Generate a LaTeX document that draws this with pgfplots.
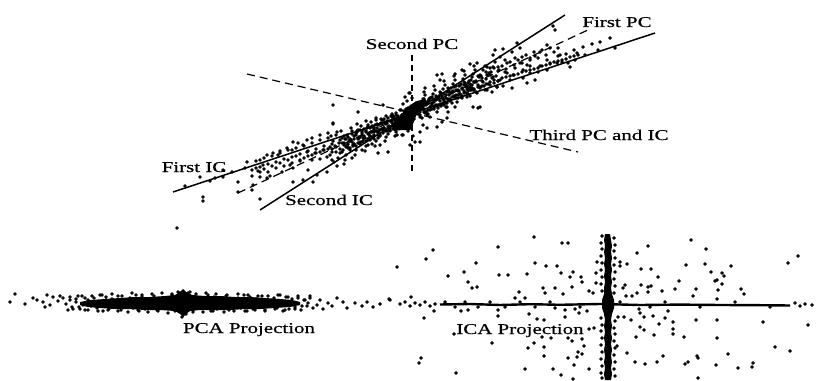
\documentclass[border=0pt]{standalone}
\usepackage{pgfplots}
\pgfplotsset{compat=1.18}
\usepackage{fontspec}
\setmainfont[FakeStretch=1.4, FakeBold=0.6]{Liberation Serif}
\begin{document}
\begin{tikzpicture}
\begin{axis}[scale only axis, width=816bp, height=380bp,
  xmin=0, xmax=816, ymin=0, ymax=380, y dir=reverse,
  hide axis, clip=true,
  every axis plot/.append style={black}]
\path (rel axis cs:0,0) rectangle (rel axis cs:1,1);
% ---------- top: central blob ----------
\addplot[fill=black, draw=none] coordinates {
(392,126) (398,119) (404,111) (410,105) (417,101) (425,99) (428,103) (422,109) (416,116) (413,124) (410,130) (402,130) (394,131)} -- cycle;
% ---------- top: scatter ----------
\addplot[only marks, mark=*, mark size=1.5] table {
x y
333 124
320 135
328 133
337 132
312 138
307 140
293 142
298 143
303 145
287 148
292 150
280 151
273 153
278 155
267 155
307 152
315 153
323 150
330 147
300 160
312 160
320 159
327 157
260 160
247 162
263 165
290 165
282 172
293 168
258 171
260 177
267 178
223 170
223 177
200 177
238 182
253 185
238 192
252 190
203 197
203 201
260 199
293 182
303 180
313 182
317 175
327 172
308 170
185 186
215 178
232 172
245 168
210 181
270 176
331 136
333 141
335 146
336 152
338 158
334 162
332 149
339 143
337 166
330 155
341 131
342 138
344 143
343 150
346 155
348 147
345 160
347 135
349 141
340 153
344 164
351 128
352 134
354 139
353 145
356 150
358 143
355 155
357 131
359 137
350 148
352 158
357 124
361 126
362 131
364 136
363 141
366 146
368 139
365 151
367 128
369 134
360 144
362 150
366 121
368 145
371 122
372 127
374 132
373 137
376 141
378 135
375 146
377 124
379 130
370 140
372 144
376 118
378 138
374 128
381 119
382 124
384 128
383 133
386 137
388 131
385 141
387 121
389 126
380 136
382 129
386 116
388 134
384 122
391 116
392 120
394 124
393 129
396 132
398 127
395 136
397 118
399 123
390 131
392 126
396 113
398 121
394 119
401 110
403 104
405 97
407 101
409 93
411 128
413 136
415 142
402 135
418 105
410 145
412 98
408 131
421 103
422 108
424 112
423 99
426 105
428 110
425 95
427 115
429 101
420 117
424 92
431 98
432 103
434 107
433 94
436 100
438 105
435 90
437 112
439 97
430 110
434 86
441 93
442 98
444 102
443 89
446 95
448 100
445 85
447 107
449 91
440 105
444 81
448 112
451 88
452 93
454 97
453 84
456 90
458 95
455 80
457 102
459 86
450 99
454 76
461 84
462 88
464 93
463 79
466 86
468 91
465 75
467 97
469 81
460 94
464 71
471 80
472 85
474 89
473 74
476 82
478 87
475 70
477 93
479 77
470 90
474 66
481 76
482 81
484 86
483 70
486 79
488 84
485 66
487 90
489 73
480 88
491 72
492 78
494 83
493 67
496 76
498 81
495 62
497 87
499 70
495 50
503 49
512 52
493 55
500 57
522 57
530 58
535 56
547 60
550 63
557 63
562 62
568 63
570 67
520 63
527 65
507 63
498 67
490 68
515 68
523 70
507 73
513 75
530 73
538 72
547 70
487 75
493 77
500 80
510 80
523 78
483 82
490 85
497 87
503 86
485 90
492 92
480 107
553 26
555 30
517 43
547 45
558 48
577 53
437 75
442 74
477 63
487 67
447 103
455 107
473 107
478 108
430 117
442 122
447 118
423 125
427 128
437 127
420 132
333 105
383 105
358 112
333 123
380 145
388 152
397 135
403 135
420 142
410 93
332 160
378 153
505 60
515 58
540 52
583 47
592 44
600 42
615 48
610 38
598 50
575 60
585 55
540 66
560 55
530 66
520 48
505 72
512 88
527 83
535 80
425 88
440 80
455 74
462 70
470 64
340 140
340 149
342 143
342 152
344 136
344 145
346 147
346 139
348 137
348 148
350 141
350 150
352 131
352 142
354 144
354 136
356 135
356 146
358 139
358 130
360 130
360 142
362 142
362 135
364 129
364 138
366 132
366 141
368 125
368 134
370 136
370 128
372 126
372 137
374 130
374 139
376 120
376 131
378 133
378 125
380 124
380 135
382 129
382 120
384 119
384 131
386 131
386 124
388 118
388 127
390 121
390 130
392 114
392 123
394 125
394 117
396 115
396 126
398 119
398 128
400 110
400 120
402 123
402 115
404 114
404 125
406 118
406 109
408 108
408 120
410 120
410 113
412 107
412 116
414 110
414 119
416 103
416 112
418 114
418 106
420 104
420 115
422 109
422 118
424 99
424 110
426 112
426 104
428 103
428 114
430 107
430 98
432 97
432 109
434 109
434 102
436 96
436 105
438 99
438 108
440 92
440 101
442 104
442 96
444 94
444 105
446 98
446 107
448 88
448 99
450 101
450 93
452 92
452 103
454 96
454 87
456 86
456 98
458 98
458 91
460 85
460 94
462 89
462 98
464 82
464 91
466 93
466 85
468 83
468 94
470 87
470 96
472 77
472 88
474 90
474 82
476 81
476 92
478 85
478 76
480 75
480 87
345 139
348 144
351 140
354 144
357 132
360 137
363 138
366 131
369 138
372 132
375 125
378 132
381 123
384 128
387 123
390 128
393 116
396 120
399 122
402 115
405 122
408 116
411 109
414 116
417 107
420 112
423 107
426 112
429 99
432 104
435 106
438 98
441 106
444 100
447 92
450 100
453 91
456 95
459 91
462 96
465 83
468 88
471 90
474 82
347 145
350 139
353 146
356 133
359 138
362 133
365 138
368 127
371 132
374 135
377 128
380 130
383 129
386 123
389 129
392 117
395 122
398 116
401 122
404 111
407 115
410 119
413 112
416 113
419 113
422 107
425 113
428 101
431 106
434 100
437 106
440 95
443 99
446 103
449 95
452 97
455 97
458 90
461 97
464 85
467 89
470 84
473 90
482 86
482 78
486 84
486 72
490 82
490 75
494 80
494 68
498 81
498 71
502 78
502 66
506 77
506 69
510 76
510 62
514 75
514 65
518 74
518 60
522 72
522 63
526 71
526 55
530 70
530 60
534 69
534 52
538 68
538 58
542 66
542 50
546 65
546 55
550 64
550 48
554 62
554 52
558 61
558 56
562 60
566 59
566 54
570 57
574 56
574 50
578 55
252 170
252 176
256 168
256 161
260 167
260 172
264 158
264 169
268 164
268 172
272 156
272 166
276 162
276 168
280 153
280 163
284 159
284 166
288 150
288 160
292 157
292 163
296 148
296 156
300 154
300 161
304 146
304 158
308 151
308 156
312 143
312 155
316 149
316 153
320 140
320 152
324 146
324 150
328 138
328 149
332 144
332 152
336 135
336 147
};
% ---------- top: component lines ----------
\addplot[line width=1.5bp] coordinates {(173,192) (655,33)};
\addplot[line width=1.5bp] coordinates {(260,210) (565,15)};
\addplot[line width=1.2bp, dash pattern=on 8bp off 5bp] coordinates {(238,193) (590,29)};
\addplot[line width=1.2bp, dash pattern=on 6bp off 4bp] coordinates {(412,55) (412,172)};
\addplot[line width=1.2bp, dash pattern=on 8bp off 5bp] coordinates {(247,74) (578,152)};
% ---------- PCA projection ----------
\addplot[fill=black, draw=none] coordinates {
(80,302) (90,300) (105,299) (120,298) (135,297) (150,297) (165,296) (175,295) (180,292) (183,289) (186,292) (192,295) (205,296) (220,296) (235,297) (250,297) (265,298) (280,299) (292,300) (300,302)
(300,305) (290,307) (275,308) (260,309) (245,309) (230,310) (215,310) (200,310) (190,311) (186,314) (183,317) (180,314) (175,311) (160,310) (145,310) (130,309) (115,309) (100,308) (88,307) (80,305)} -- cycle;
\addplot[only marks, mark=*, mark size=1.5] table {
x y
15 294
10 302
33 298
43 302
47 295
53 297
50 305
45 307
63 298
337 298
343 302
347 308
367 302
373 307
390 300
328 303
317 305
313 308
305 300
58 301
66 304
70 300
72 307
78 296
80 309
85 298
88 310
92 296
95 303
98 311
102 295
106 300
108 310
112 294
115 304
118 311
122 296
125 301
128 312
132 293
135 306
138 310
142 295
146 302
148 312
152 294
155 307
158 311
162 293
165 300
168 313
172 294
175 306
180 293
186 314
190 292
193 312
196 294
199 306
203 312
206 293
210 300
213 311
216 294
220 305
224 312
227 295
230 301
234 311
238 294
241 305
245 311
248 295
252 302
255 310
258 296
262 304
265 311
268 296
272 301
275 309
278 295
282 305
285 310
288 297
292 303
295 309
298 298
302 306
308 303
310 296
320 300
323 309
332 306
355 303
362 306
380 304
25 304
37 300
60 296
68 310
76 302
83 305
100 305
140 300
160 304
178 292
188 293
182 317
177 228
70 297
73 309
76 299
79 307
82 296
85 310
88 300
91 306
94 298
97 308
100 295
103 311
106 297
109 309
112 299
115 307
118 296
121 310
124 300
127 306
130 298
133 308
136 295
139 311
142 297
145 309
148 299
151 307
154 296
157 310
160 300
163 306
166 298
169 308
172 295
175 311
178 297
181 309
184 299
187 307
190 296
193 310
196 300
199 306
202 298
205 308
208 295
211 311
214 297
217 309
220 299
223 307
226 296
229 310
232 300
235 306
238 298
241 308
244 295
247 311
250 297
253 309
256 299
259 307
262 296
265 310
268 300
271 306
274 298
277 308
280 295
283 311
286 297
289 309
292 299
295 307
298 296
301 310
304 300
307 306
310 298
};
% ---------- ICA projection ----------
\addplot[line width=2.4bp] coordinates {(440,304.5) (470,304) (500,305) (530,304.2) (560,304.8) (600,304) (640,305) (680,304.6) (720,305) (760,305.2) (790,305.5)};
\addplot[fill=black, draw=none] coordinates {
(605,234) (604,240) (605,246) (604,252) (605,258) (604,264) (605,270) (604,276) (605,282) (604,288) (604,294) (602,300) (602,308) (604,314) (605,320) (604,326) (605,332) (604,338) (605,344) (604,350) (605,356) (604,362) (605,368) (604,374) (605,380)
(611,380) (612,374) (611,368) (612,362) (611,356) (612,350) (611,344) (612,338) (611,332) (612,326) (611,320) (612,314) (614,308) (614,300) (612,294) (611,288) (612,282) (611,276) (612,270) (611,264) (612,258) (611,252) (612,246) (611,240) (610,234)} -- cycle;
\addplot[only marks, mark=*, mark size=1.5] table {
x y
534 237
562 243
568 243
498 247
433 250
426 259
476 263
397 267
535 263
546 266
557 266
597 262
464 272
448 276
499 275
508 275
527 274
561 273
573 272
570 277
581 277
596 273
468 282
582 282
596 283
472 288
477 287
543 288
555 288
572 287
519 292
545 293
563 294
589 291
593 293
389 299
411 297
515 298
525 298
434 311
461 311
468 310
498 310
555 308
565 310
575 309
587 311
424 318
498 316
529 314
537 319
544 320
565 317
579 313
454 334
589 329
594 328
542 337
551 338
568 338
572 341
582 339
492 343
534 343
584 346
544 347
528 348
578 352
582 354
421 358
419 363
544 356
568 358
577 357
574 365
456 373
525 369
553 369
561 375
589 369
573 379
691 240
648 246
706 249
798 256
637 253
620 262
627 264
620 266
686 265
705 264
731 266
788 263
641 269
651 269
711 272
722 273
724 276
658 277
679 281
715 281
717 280
722 284
625 285
623 288
641 285
648 287
651 286
662 291
675 289
696 289
718 290
741 289
648 292
637 293
626 296
632 296
693 296
744 294
717 299
639 309
640 313
668 311
618 317
624 317
631 320
644 317
653 316
665 318
673 322
696 320
717 320
763 322
659 324
640 327
644 330
673 329
673 334
808 325
636 337
654 335
684 337
717 338
617 346
775 347
790 351
627 353
663 356
697 356
698 358
728 354
635 362
645 364
657 362
685 364
688 362
716 365
738 368
753 363
752 367
698 378
400 304
405 302
410 306
415 303
420 305
425 302
430 306
435 304
445 302
455 307
465 302
478 307
490 302
505 307
520 302
535 307
550 302
580 307
620 302
650 307
665 302
700 307
735 302
770 307
795 303
800 306
805 304
812 305
602 236
601 243
602 249
601 256
602 263
601 270
602 277
601 284
602 291
601 318
602 325
601 331
602 338
601 345
602 352
601 359
602 366
601 373
602 378
614 238
615 245
614 251
615 258
614 265
615 272
614 279
615 286
614 293
615 321
614 328
615 334
614 341
615 348
614 355
615 362
614 369
615 376
};
% ---------- labels ----------
\node[anchor=base, font=\fontsize{15}{18}\selectfont] at (axis cs:617,27) {First PC};
\node[anchor=base, font=\fontsize{15}{18}\selectfont] at (axis cs:412,49) {Second PC};
\node[anchor=base, font=\fontsize{15}{18}\selectfont] at (axis cs:599,140) {Third PC and IC};
\node[anchor=base, font=\fontsize{15}{18}\selectfont] at (axis cs:194,172) {First IC};
\node[anchor=base, font=\fontsize{15}{18}\selectfont] at (axis cs:329,205) {Second IC};
\node[anchor=base, font=\fontsize{15}{18}\selectfont] at (axis cs:249,333) {PCA Projection};
\node[anchor=base, font=\fontsize{15}{18}\selectfont] at (axis cs:520,334) {ICA Projection};
\end{axis}
\end{tikzpicture}
\end{document}
